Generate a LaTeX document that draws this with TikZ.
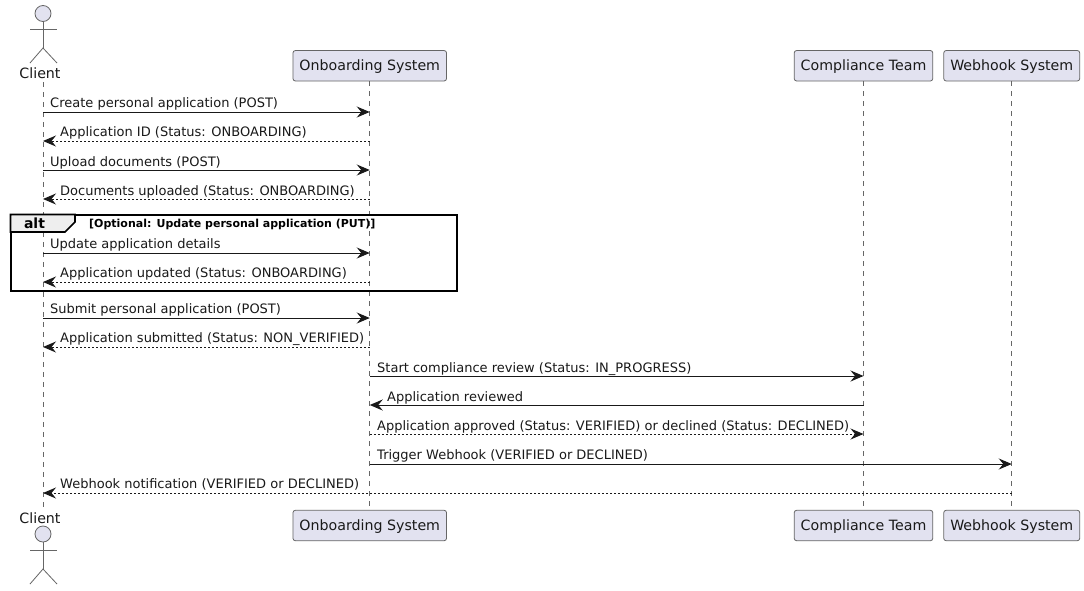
\documentclass[tikz,border=0pt]{standalone}
\usepackage{fontspec}
\setmainfont{DejaVu Sans}
\usetikzlibrary{arrows.meta,positioning}
\definecolor{partfill}{HTML}{E2E2F0}
\definecolor{partline}{HTML}{666666}
\definecolor{tabfill}{HTML}{EEEEEE}
\tikzstyle{part} = [draw=partline, fill=partfill, rectangle, rounded corners=2.5pt, line width=0.8pt, minimum height=30.5pt, inner xsep=6.5pt, text height=10.6pt, text depth=1.6pt, font=\fontsize{14.2pt}{16pt}\selectfont, text=black!90]
\tikzstyle{actorname} = [inner sep=0pt, font=\fontsize{14.2pt}{16pt}\selectfont, text=black!90]
\tikzstyle{actorline} = [draw=partline, line width=0.8pt]
\tikzstyle{life} = [draw=partline, line width=0.7pt, dash pattern=on 5pt off 5pt]
\tikzstyle{msg} = [draw=black!90, line width=1pt, -{Stealth[length=13pt,width=11pt,inset=4.5pt]}]
\tikzstyle{reply} = [msg, dash pattern=on 2pt off 2pt]
\tikzstyle{txt} = [anchor=base west, inner sep=0pt, font=\fontsize{13pt}{15pt}\selectfont, text=black!90]
\begin{document}
\begin{tikzpicture}[x=1pt,y=-1pt]
	\useasboundingbox (0,0) rectangle (1084,590);
	\fill [white] (0,0) rectangle (1084,590);

	% participants
	\node [actorname] (client) at (40,73) {Client};
	\node [part] (onb) at (369.75,65.75) {Onboarding System};
	\node [part] (comp) at (863.5,65.75) {Compliance Team};
	\node [part] (hook) at (1011.75,65.75) {Webhook System};
	\node [actorname] (client2) at (40,518) {Client};
	\node [part] (onb2) at (369.75,525.5) {Onboarding System};
	\node [part] (comp2) at (863.5,525.5) {Compliance Team};
	\node [part] (hook2) at (1011.75,525.5) {Webhook System};

	% actor on top
	\node [circle, draw=partline, fill=partfill, line width=0.8pt, minimum size=16pt, inner sep=0pt] (head) at (43,13.5) {};
	\coordinate (hip) at (43,48);
	\coordinate (top1) at (43,82);
	\coordinate (bot1) at (43,510);
	\draw [actorline] (head.south) -- (hip);
	\draw [actorline] (30,29) -- (57,29);
	\draw [actorline] (30,63) -- (hip) -- (57,63);

	% actor below
	\node [circle, draw=partline, fill=partfill, line width=0.8pt, minimum size=16pt, inner sep=0pt] (head2) at (43,534) {};
	\coordinate (hip2) at (43,569);
	\draw [actorline] (head2.south) -- (hip2);
	\draw [actorline] (30,550) -- (57,550);
	\draw [actorline] (30,584) -- (hip2) -- (57,584);

	% lifelines
	\draw [life] (top1) -- (bot1);
	\draw [life] (onb.south) -- (onb2.north);
	\draw [life] (comp.south) -- (comp2.north);
	\draw [life] (hook.south) -- (hook2.north);

	% alt frame
	\node [draw=black, line width=2pt, rectangle, minimum width=446pt, minimum height=76pt, anchor=north west, outer sep=0pt, inner sep=0pt] (frame) at (10.5,214.5) {};
	\filldraw [fill=tabfill, draw=black, line width=1.6pt] (frame.north west) -- (75,214.5) -- (75,222) -- (65,232) -- (10.5,232) -- cycle;
	\node [anchor=base, inner sep=0pt, font=\fontsize{14pt}{16pt}\selectfont\bfseries] (altname) at (34.5,228) {alt};
	\node [anchor=base west, inner sep=0pt, font=\fontsize{11pt}{13pt}\selectfont\bfseries] (altcond) at (89,227) {[Optional: Update personal application (PUT)]};

	% message rows
	\coordinate (r1) at (0,112);
	\coordinate (r2) at (0,141);
	\coordinate (r3) at (0,170);
	\coordinate (r4) at (0,199);
	\coordinate (r5) at (0,253);
	\coordinate (r6) at (0,282);
	\coordinate (r7) at (0,318);
	\coordinate (r8) at (0,347);
	\coordinate (r9) at (0,376);
	\coordinate (r10) at (0,405);
	\coordinate (r11) at (0,434);
	\coordinate (r12) at (0,464);
	\coordinate (r13) at (0,493);

	\draw [msg] (top1 |- r1) -- (onb |- r1);
	\draw [reply] (onb |- r2) -- (top1 |- r2);
	\draw [msg] (top1 |- r3) -- (onb |- r3);
	\draw [reply] (onb |- r4) -- (top1 |- r4);
	\draw [msg] (top1 |- r5) -- (onb |- r5);
	\draw [reply] (onb |- r6) -- (top1 |- r6);
	\draw [msg] (top1 |- r7) -- (onb |- r7);
	\draw [reply] (onb |- r8) -- (top1 |- r8);
	\draw [msg] (onb |- r9) -- (comp |- r9);
	\draw [msg] (comp |- r10) -- (onb |- r10);
	\draw [reply] (onb |- r11) -- (comp |- r11);
	\draw [msg] (onb |- r12) -- (hook |- r12);
	\draw [reply] (hook |- r13) -- (top1 |- r13);

	% message texts
	\node [txt] (t1) at (50,107) {Create personal application (POST)};
	\node [txt] (t2) at (60,136) {Application ID (Status: ONBOARDING)};
	\node [txt] (t3) at (50,166) {Upload documents (POST)};
	\node [txt] (t4) at (60,195) {Documents uploaded (Status: ONBOARDING)};
	\node [txt] (t5) at (50,248) {Update application details};
	\node [txt] (t6) at (60,277) {Application updated (Status: ONBOARDING)};
	\node [txt] (t7) at (50,313) {Submit personal application (POST)};
	\node [txt] (t8) at (60,342) {Application submitted (Status: NON\_VERIFIED)};
	\node [txt] (t9) at (377,372) {Start compliance review (Status: IN\_PROGRESS)};
	\node [txt] (t10) at (387,401) {Application reviewed};
	\node [txt] (t11) at (377,430) {Application approved (Status: VERIFIED) or declined (Status: DECLINED)};
	\node [txt] (t12) at (377,459) {Trigger Webhook (VERIFIED or DECLINED)};
	\node [txt] (t13) at (60,488) {Webhook notification (VERIFIED or DECLINED)};
\end{tikzpicture}
\end{document}
